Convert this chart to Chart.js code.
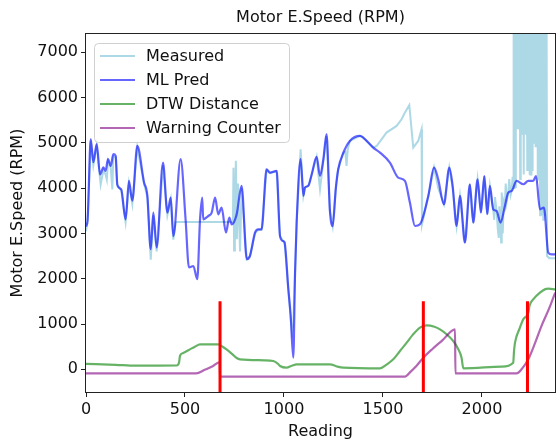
<!DOCTYPE html>
<html>
<head>
<meta charset="utf-8">
<script src="https://cdn.jsdelivr.net/npm/chart.js@4.4.1/dist/chart.umd.min.js"></script>
<style>
  html, body { margin: 0; padding: 0; background: #fff; }
  #wrap { width: 557px; height: 443px; }
</style>
</head>
<body>
<div id="wrap"><canvas id="speedChart" width="557" height="443"></canvas></div>
<script>
// ML prediction (reading, rpm)
const mlX = [0, 8, 24, 37, 54, 71, 88, 99, 111, 125, 138, 150, 158, 178, 200, 217, 234, 259, 293, 310,
  327, 340, 357, 389, 411, 428, 441, 478, 503, 520, 542, 562, 576, 587, 592, 618, 635, 652, 668, 685,
  707, 724, 736, 761, 786, 812, 828, 854, 870, 887, 912, 929, 963, 980, 996, 1003, 1022, 1034, 1047, 1056,
  1064, 1084, 1098, 1106, 1123, 1140, 1165, 1182, 1199, 1215, 1232, 1246, 1262, 1274, 1300, 1333, 1384, 1400, 1451, 1485,
  1535, 1577, 1611, 1636, 1662, 1687, 1729, 1758, 1779, 1808, 1835, 1852, 1872, 1889, 1914, 1939, 1956, 1978, 1995, 2012,
  2027, 2040, 2057, 2074, 2094, 2116, 2133, 2150, 2175, 2209, 2234, 2259, 2273, 2293, 2313, 2335, 2352, 2370]
const mlY = [3150, 3300, 5080, 4570, 4970, 4300, 4460, 4380, 4640, 4490, 4750, 4710, 4080, 3970, 3310, 4160, 3720, 4930, 4130, 3830,
  2650, 3460, 2690, 4560, 3460, 3790, 2940, 4640, 3310, 2250, 2280, 1990, 3310, 3790, 3310, 3385, 3460, 3790, 3420, 3570,
  3020, 3350, 3200, 3420, 4050, 2430, 2500, 3020, 3090, 3090, 4415, 4340, 4380, 2940, 2830, 2800, 1770, 1180, 260, 2130,
  3240, 4640, 3830, 4010, 4050, 4300, 4690, 4270, 4640, 5190, 3500, 3160, 4000, 4415, 4780, 5040, 5150, 5114, 4893, 4783,
  4562, 4231, 4157, 3680, 3163, 3201, 3826, 4452, 4194, 3642, 4452, 4047, 3163, 3826, 2796, 4084, 3238, 4194, 3459, 4267,
  3422, 4047, 3532, 3495, 3238, 3606, 3900, 3937, 4157, 4084, 4157, 4157, 4267, 3532, 3569, 2576, 2539, 2539]

// Measured (reading, rpm)
const measX = [0, 8, 24, 37, 54, 74, 88, 99, 105, 111, 125, 133, 138, 150, 158, 178, 200, 217, 234, 259,
  293, 310, 327, 340, 357, 389, 411, 428, 441, 453, 742, 745, 748, 752, 757, 762, 768, 778, 786, 812,
  828, 854, 870, 887, 912, 929, 963, 980, 996, 1003, 1022, 1034, 1040, 1047, 1056, 1064, 1084, 1098, 1106, 1123,
  1140, 1165, 1182, 1199, 1215, 1232, 1246, 1262, 1274, 1300, 1310, 1316, 1322, 1333, 1384, 1400, 1451, 1468, 1518, 1569,
  1594, 1611, 1633, 1653, 1678, 1695, 1697, 1729, 1758, 1779, 1808, 1835, 1852, 1872, 1889, 1914, 1939, 1956, 1978, 1995,
  2012, 2027, 2040, 2050, 2057, 2062, 2066, 2074, 2080, 2085, 2088, 2094, 2097, 2100, 2105, 2110, 2116, 2120, 2125, 2133,
  2138, 2145, 2150, 2155, 2158, 2160, 2162, 2164, 2166, 2168, 2170, 2172, 2175, 2178, 2181, 2184, 2187, 2190, 2193, 2196,
  2199, 2202, 2205, 2208, 2211, 2214, 2217, 2220, 2223, 2226, 2229, 2232, 2235, 2238, 2240, 2242, 2244, 2246, 2248, 2250,
  2253, 2256, 2259, 2262, 2265, 2268, 2271, 2274, 2277, 2280, 2282, 2286, 2290, 2292, 2294, 2296, 2298, 2300, 2302, 2304,
  2306, 2308, 2310, 2312, 2314, 2316, 2318, 2320, 2322, 2324, 2326, 2327, 2329, 2340, 2370]
const measY = [3050, 3250, 5050, 4500, 4950, 4080, 4400, 4300, 4190, 4600, 4450, 3970, 4700, 4680, 4050, 3950, 3250, 4100, 3650, 4900,
  4100, 3800, 2420, 3400, 2600, 4500, 3400, 3750, 2860, 3250, 3250, 4450, 2620, 3400, 4600, 2870, 4100, 2600, 4000, 2430,
  2500, 3000, 3080, 3080, 4400, 4330, 4370, 2940, 2830, 2800, 1770, 1100, 820, 1000, 2130, 3240, 4856, 3830, 4010, 4050,
  4300, 4690, 3974, 4600, 5150, 3500, 3160, 4000, 4415, 4780, 4800, 4490, 4850, 5040, 5150, 5114, 4893, 4929, 5225, 5371,
  5519, 5666, 5828, 4894, 5040, 5298, 3200, 3826, 4452, 4000, 3642, 4452, 4000, 3163, 3826, 2796, 4084, 3238, 4194, 3459,
  4267, 3422, 4047, 3700, 3532, 3300, 3800, 3495, 3100, 2900, 3600, 3238, 2800, 3900, 3000, 3700, 3606, 4100, 3700, 3900,
  4200, 3850, 3937, 4250, 4000, 7800, 4000, 7800, 4100, 7800, 4000, 7800, 5300, 7800, 5300, 7800, 5300, 7800, 4200, 7800,
  5200, 7800, 5200, 7800, 4300, 7800, 5200, 7800, 5200, 7800, 4400, 7800, 5200, 7800, 4300, 7800, 4300, 7800, 4300, 7800,
  4400, 7800, 5000, 7800, 5000, 7800, 4900, 7800, 4900, 7800, 4200, 4250, 4200, 7800, 3400, 7800, 3500, 7800, 3400, 7800,
  3500, 7800, 3300, 7800, 3400, 7800, 3400, 7800, 3500, 7800, 3300, 7800, 2500, 2450, 2450]

// DTW distance
const dtwX = [0, 150, 250, 458, 470, 475, 491, 525, 550, 576, 668, 690, 710, 740, 761, 778, 900, 946, 970, 980,
  1013, 1040, 1064, 1232, 1270, 1300, 1485, 1520, 1552, 1585, 1620, 1650, 1687, 1721, 1760, 1788, 1820, 1855, 1880, 1897,
  1906, 2100, 2158, 2162, 2167, 2190, 2209, 2234, 2240, 2260, 2293, 2320, 2335, 2370]
const dtwY = [120, 100, 80, 85, 150, 300, 360, 440, 500, 550, 550, 500, 440, 330, 250, 221, 200, 184, 120, 74,
  37, 80, 110, 110, 60, 37, 22, 110, 221, 400, 589, 760, 920, 971, 940, 883, 780, 625, 450, 257,
  22, 60, 147, 400, 589, 900, 1104, 1251, 1400, 1550, 1693, 1770, 1780, 1766]

// Warning counter
const warnX = [0, 556, 600, 640, 675, 677, 1611, 1640, 1670, 1704, 1750, 1800, 1864, 1866, 2175, 2200, 2234, 2270, 2300, 2340, 2370]
const warnY = [-90, -90, -10, 70, 160, -160, -160, -50, 80, 257, 450, 640, 883, -90, -90, 0, 221, 600, 950, 1350, 1693]

// readings where the alarm fired, drawn as red vertical lines
const alarmReadings = [677, 1704, 2230]
const alarmSpan = [-500, 1500]

const xTicks = [0, 500, 1000, 1500, 2000]
const yTicks = [0, 1000, 2000, 3000, 4000, 5000, 6000, 7000]

const legendItems = [
  { label: 'Measured', color: 'rgb(173, 216, 230)' },
  { label: 'ML Pred', color: 'rgba(0, 0, 255, 0.6)' },
  { label: 'DTW Distance', color: 'rgba(0, 128, 0, 0.6)' },
  { label: 'Warning Counter', color: 'rgba(128, 0, 128, 0.6)' }
]

function toPoints(xs, ys) {
  return xs.map((x, i) => ({ x: x, y: ys[i] }))
}

function alarmPoints() {
  const pts = []
  alarmReadings.forEach(r => {
    pts.push({ x: r, y: alarmSpan[0] })
    pts.push({ x: r, y: alarmSpan[1] })
    pts.push({ x: r, y: null })
  })
  return pts
}

const FONT = 'DejaVu Sans'
Chart.defaults.font.family = FONT
Chart.defaults.color = '#111'

// title, frame and in-axes legend the way matplotlib lays them out
const decorPlugin = {
  id: 'decor',
  afterDraw(chart) {
    const ctx = chart.ctx
    const a = chart.chartArea
    ctx.save()

    ctx.strokeStyle = '#222'
    ctx.lineWidth = 1
    ctx.strokeRect(a.left - 0.5, a.top - 0.5, a.right - a.left + 1, a.bottom - a.top + 1)

    ctx.fillStyle = '#111'
    ctx.font = '16px "DejaVu Sans"'
    ctx.textAlign = 'center'
    ctx.textBaseline = 'middle'
    ctx.fillText('Motor E.Speed (RPM)', (a.left + a.right) / 2, 18)

    // legend box
    const bx = 94, by = 43, bw = 195, bh = 99
    ctx.beginPath()
    ctx.roundRect(bx + 0.5, by + 0.5, bw, bh, 4)
    ctx.fillStyle = 'rgba(255,255,255,0.8)'
    ctx.fill()
    ctx.strokeStyle = '#d0d0d0'
    ctx.stroke()

    ctx.font = '16px "DejaVu Sans"'
    ctx.textAlign = 'left'
    legendItems.forEach((item, i) => {
      const y = 56 + i * 24
      ctx.strokeStyle = item.color
      ctx.lineWidth = 2
      ctx.beginPath()
      ctx.moveTo(100, y)
      ctx.lineTo(135, y)
      ctx.stroke()
      ctx.fillStyle = '#111'
      ctx.fillText(item.label, 146, y + 1)
    })
    ctx.restore()
  }
}

const ctx = document.getElementById('speedChart')
new Chart(ctx, {
  type: 'line',
  data: {
    datasets: [
      {
        label: 'Measured',
        data: toPoints(measX, measY),
        borderColor: 'rgb(173, 216, 230)',
        borderWidth: 2,
        pointRadius: 0,
        tension: 0,
        order: 4
      },
      {
        label: 'ML Pred',
        data: toPoints(mlX, mlY),
        borderColor: 'rgba(0, 0, 255, 0.6)',
        borderWidth: 2.2,
        pointRadius: 0,
        cubicInterpolationMode: 'monotone',
        order: 3
      },
      {
        label: 'DTW Distance',
        data: toPoints(dtwX, dtwY),
        borderColor: 'rgba(0, 128, 0, 0.6)',
        borderWidth: 2.2,
        pointRadius: 0,
        cubicInterpolationMode: 'monotone',
        order: 2
      },
      {
        label: 'Warning Counter',
        data: toPoints(warnX, warnY),
        borderColor: 'rgba(128, 0, 128, 0.6)',
        borderWidth: 2.2,
        pointRadius: 0,
        cubicInterpolationMode: 'monotone',
        order: 1
      },
      {
        label: 'alarm',
        data: alarmPoints(),
        borderColor: '#ff0000',
        borderWidth: 3,
        pointRadius: 0,
        order: 0
      }
    ]
  },
  options: {
    responsive: false,
    animation: false,
    devicePixelRatio: 1,
    layout: { padding: { top: 34, right: 2, left: 0, bottom: 0 } },
    plugins: {
      legend: { display: false },
      title: { display: false },
      tooltip: { enabled: false }
    },
    scales: {
      x: {
        type: 'linear',
        min: 0,
        max: 2369,
        afterFit: function (scale) { scale.height = 51 },
        afterBuildTicks: function (scale) {
          scale.ticks = xTicks.map(v => ({ value: v }))
        },
        ticks: { font: { size: 16 }, padding: 3, maxRotation: 0, color: '#111', callback: v => String(v) },
        grid: { drawOnChartArea: false, drawTicks: true, tickLength: 5, color: '#222' },
        border: { display: false },
        title: { display: true, text: 'Reading', font: { size: 16 }, color: '#111', padding: { top: 0, bottom: 2 } }
      },
      y: {
        min: -500,
        max: 7400,
        afterFit: function (scale) { scale.width = 86 },
        afterBuildTicks: function (scale) {
          scale.ticks = yTicks.map(v => ({ value: v }))
        },
        ticks: { font: { size: 16 }, padding: 3, color: '#111', callback: v => String(v) },
        grid: { drawOnChartArea: false, drawTicks: true, tickLength: 5, color: '#222' },
        border: { display: false },
        title: { display: true, text: 'Motor E.Speed (RPM)', font: { size: 16 }, color: '#111', padding: { top: 8, bottom: 0 } }
      }
    }
  },
  plugins: [decorPlugin]
})
</script>
</body>
</html>
